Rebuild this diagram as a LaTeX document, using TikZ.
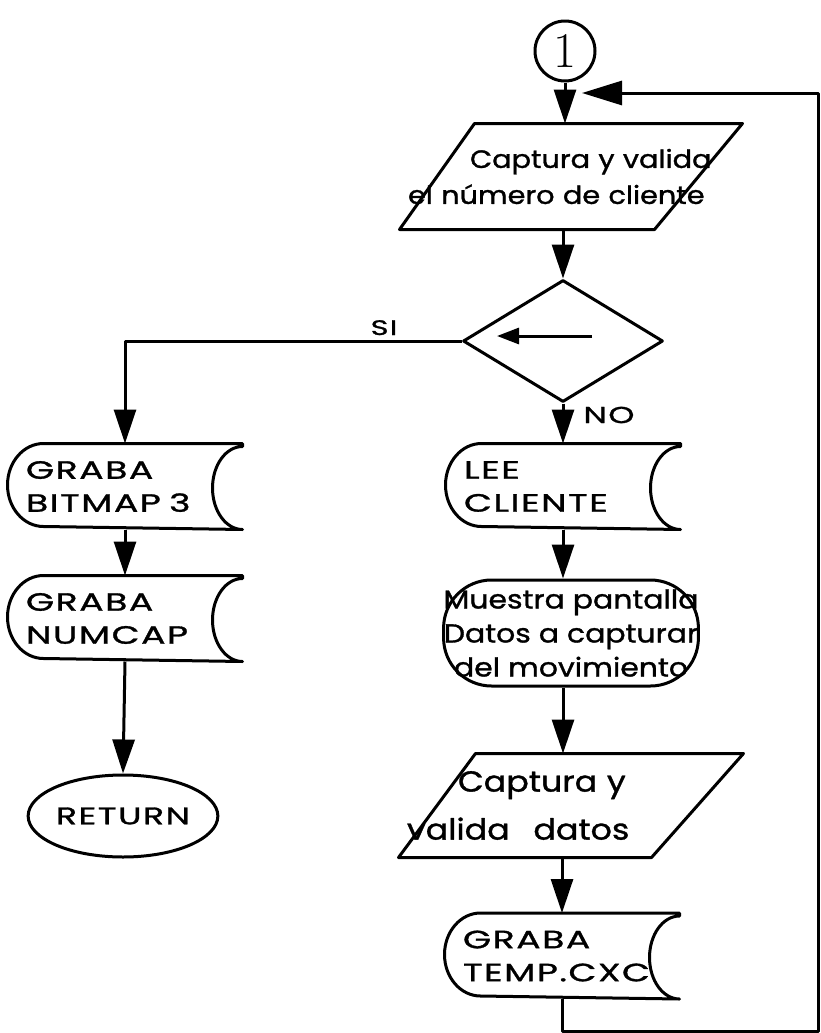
\documentclass[tikz,border=0pt]{standalone}
\usepackage{fontspec}
\newfontfamily\capsf[FakeStretch=1.45,LetterSpace=6,FakeBold=1.2]{Poppins}
\newfontfamily\handf[FakeStretch=1.15,FakeBold=1.2]{Poppins}
\usetikzlibrary{shapes.geometric,arrows.meta,calc}
\newcommand\storeoutline[1]{%
  \draw (#1.north east) -- ([xshift=36pt]#1.north west)
    arc[start angle=90,end angle=270,x radius=36pt,y radius=41.5pt]
    -- (#1.south east)
    arc[start angle=270,end angle=90,x radius=30pt,y radius=41.5pt] -- cycle;}
\begin{document}
\begin{tikzpicture}[x=1pt,y=-1pt,line width=3pt,line join=round,
  arr/.style={-{Triangle[length=34pt,width=22pt]}},
  shapebox/.style={draw=none,inner sep=0pt},
  store/.style={shapebox,minimum width=232pt,minimum height=83pt,text width=198pt,
    inner xsep=17pt,align=left,font=\capsf\fontsize{25}{33}\selectfont}]
\fill[white] (0,0) rectangle (820,1033);
\useasboundingbox (0,0) rectangle (820,1033);

% connector circle
\node[circle,draw,minimum size=60pt,inner sep=0pt,font=\fontsize{50}{50}\selectfont] (circ) at (565,51) {1};

% parallelogram 1
\node[shapebox,minimum width=340pt,minimum height=103pt,text width=326pt,inner xsep=7pt,
  align=left,font=\handf\fontsize{25}{36}\selectfont] (p1) at (571,176.5)
  {\hspace*{62pt}Captura y valida\\el número de cliente};
\draw ([xshift=75pt]p1.north west) -- (p1.north east) -- ([xshift=-88pt]p1.south east) -- (p1.south west) -- cycle;

% decision
\node[diamond,draw,minimum width=200pt,minimum height=122pt,inner sep=0pt] (d) at (563,341) {};
\draw[-{Triangle[length=22pt,width=16pt]}] ([xshift=29pt,yshift=5pt]d.center) -- ([xshift=-66pt,yshift=5pt]d.center);

% stored data boxes
\node[store] (lee) at (563,486.5) {LEE\\CLIENTE};
\storeoutline{lee}
\node[store] (bm) at (125,486.5) {GRABA\\BITMAP 3};
\storeoutline{bm}
\node[store] (nc) at (125,618.5) {GRABA\\NUMCAP};
\storeoutline{nc}
\node[store] (tmp) at (562,956) {GRABA\\TEMP.CXC};
\storeoutline{tmp}

% terminal
\node[ellipse,draw,minimum width=160pt,minimum height=82pt,inner sep=0pt,
  font=\capsf\fontsize{24}{24}\selectfont] (ret) at (123,816) {RETURN};

% display
\node[rectangle,rounded corners=48pt,draw,minimum width=253pt,minimum height=106pt,inner sep=0pt,
  align=center,font=\handf\fontsize{26}{34}\selectfont] (mu) at (571,633)
  {Muestra pantalla\\Datos a capturar\\del movimiento};

% parallelogram 2
\node[shapebox,minimum width=342pt,minimum height=101pt,text width=328pt,inner xsep=7pt,
  align=left,font=\handf\fontsize{29}{48}\selectfont] (p2) at (571,805.5)
  {\hspace*{51pt}Captura y\\valida\hspace{14pt} datos};
\draw ([xshift=77pt]p2.north west) -- (p2.north east) -- ([xshift=-92pt]p2.south east) -- (p2.south west) -- cycle;

% labels
\node[font=\capsf\fontsize{21}{21}\selectfont,anchor=base,inner sep=0pt] (si) at (384,335) {SI};
\node[font=\capsf\fontsize{23}{23}\selectfont] (no) at (609,415) {NO};

% connectors
\draw[arr] (circ.south) -- (p1.north -| circ.south);
\draw[arr] (p1.south -| d.north) -- (d.north);
\draw[arr] (d.west) -| (bm.north);
\draw[arr] (d.south) -- (lee.north);
\draw[arr] (bm.south) -- (nc.north);
\draw[arr] (nc.south) -- (ret.north);
\draw[arr] (lee.south) -- (mu.north -| lee.south);
\draw[arr] (mu.south -| lee.south) -- (p2.north -| lee.south);
\draw[arr] (p2.south -| tmp.north) -- (tmp.north);
\coordinate (rb) at (818,1031);
\coordinate (loopend) at (582,93);
\draw[-{Triangle[length=40pt,width=24pt]}] (tmp.south) |- (rb) |- (loopend);
\end{tikzpicture}
\end{document}
